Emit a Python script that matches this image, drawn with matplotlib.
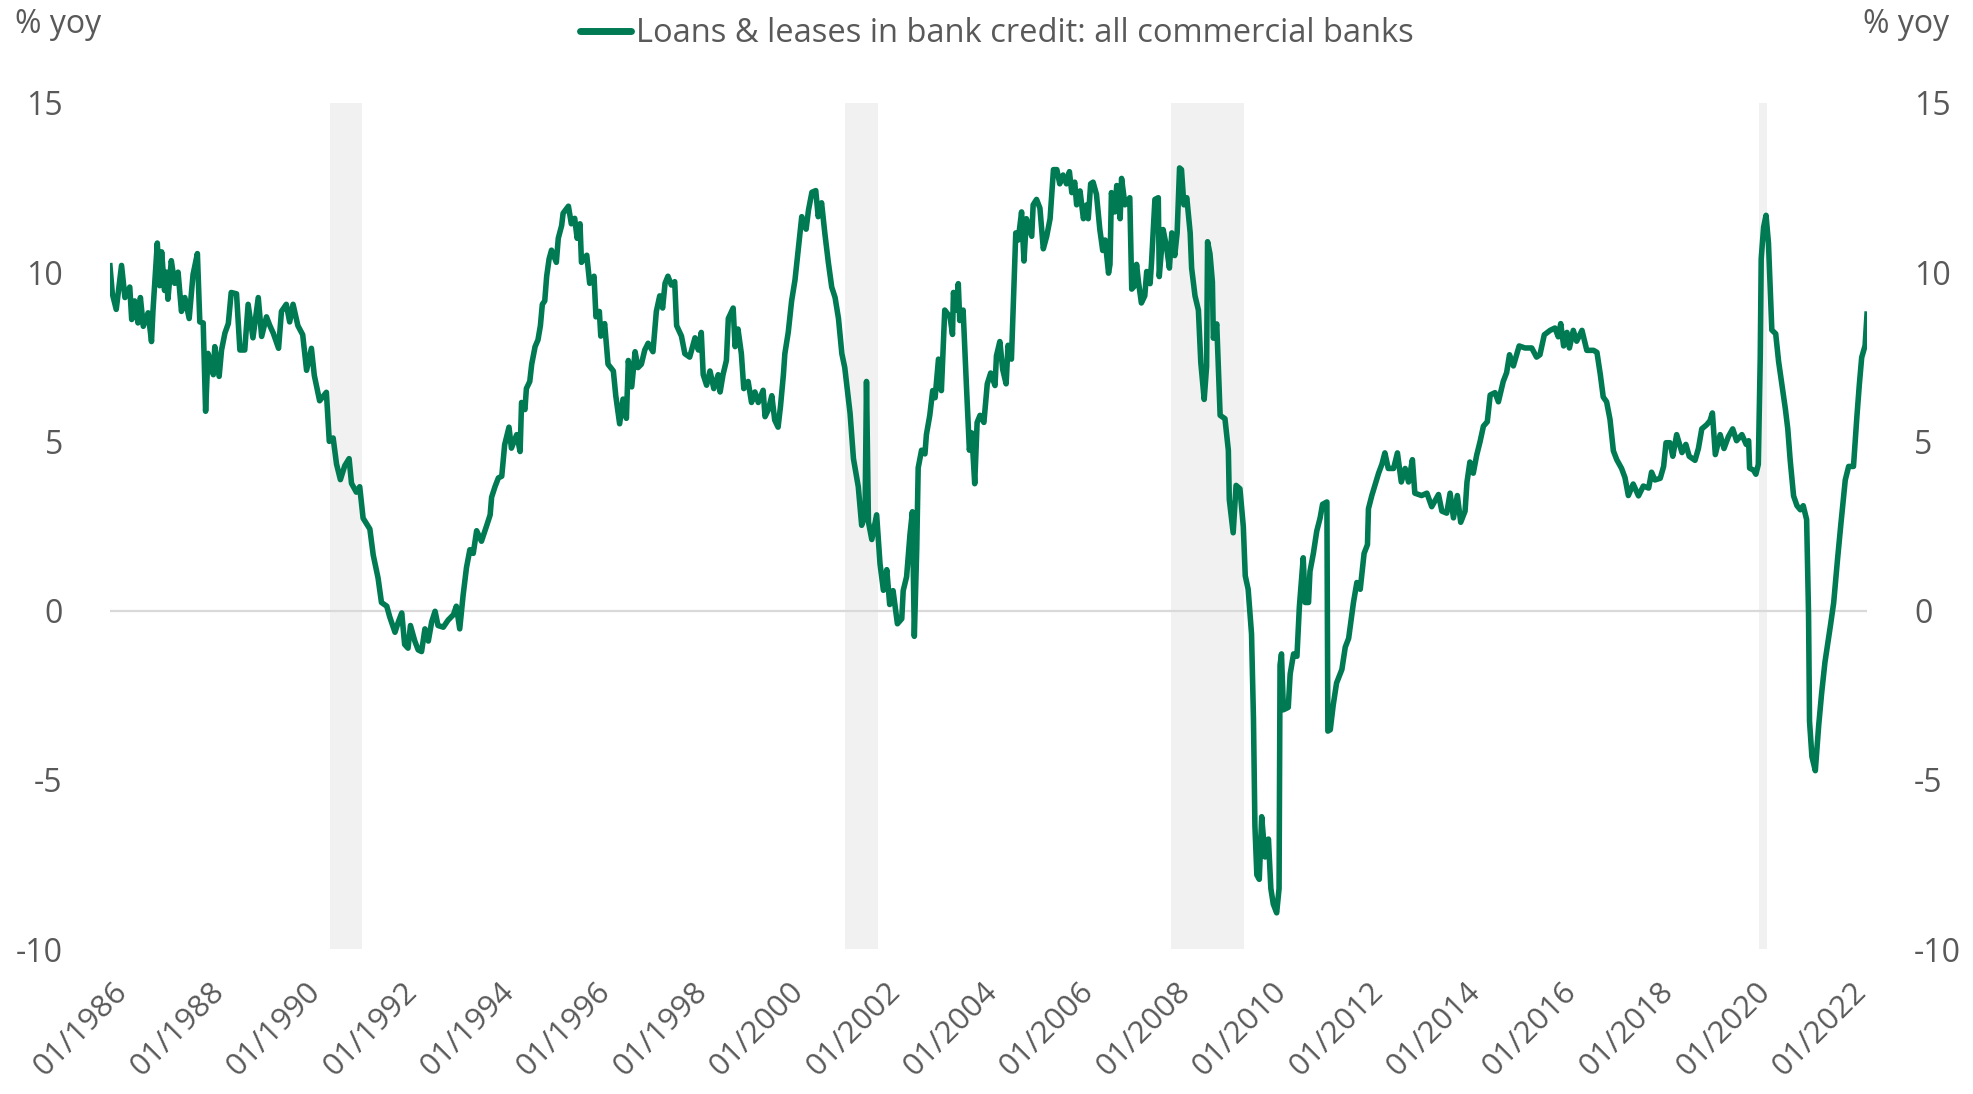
import matplotlib
matplotlib.use("Agg")
import matplotlib.pyplot as plt

# % yoy (decimal years)
years = [
    1985.95, 1986.0, 1986.08, 1986.19, 1986.26, 1986.36, 1986.4, 1986.46, 1986.53, 1986.58,
    1986.64, 1986.74, 1986.81, 1986.84, 1986.93, 1986.98, 1987.02, 1987.08, 1987.12, 1987.15,
    1987.22, 1987.29, 1987.36, 1987.43, 1987.5, 1987.59, 1987.67, 1987.76, 1987.81, 1987.88,
    1987.93, 1987.98, 1988.05, 1988.09, 1988.12, 1988.21, 1988.26, 1988.33, 1988.4, 1988.46,
    1988.57, 1988.64, 1988.74, 1988.81, 1988.91, 1989.02, 1989.09, 1989.19, 1989.26, 1989.33,
    1989.44, 1989.5, 1989.6, 1989.67, 1989.74, 1989.84, 1989.94, 1990.02, 1990.12, 1990.18,
    1990.29, 1990.43, 1990.49, 1990.57, 1990.64, 1990.72, 1990.81, 1990.9, 1990.95, 1991.05,
    1991.12, 1991.19, 1991.33, 1991.4, 1991.5, 1991.57, 1991.68, 1991.74, 1991.85, 1991.92,
    1991.99, 1992.05, 1992.12, 1992.17, 1992.26, 1992.33, 1992.4, 1992.47, 1992.54, 1992.61,
    1992.68, 1992.74, 1992.85, 1992.95, 1993.06, 1993.12, 1993.19, 1993.26, 1993.33, 1993.4,
    1993.47, 1993.54, 1993.64, 1993.75, 1993.82, 1993.85, 1993.92, 1993.99,
    1994.06, 1994.12, 1994.21, 1994.26, 1994.37, 1994.44, 1994.47, 1994.54, 1994.57, 1994.64,
    1994.68, 1994.75, 1994.81, 1994.86, 1994.9, 1994.95, 1994.99, 1995.04, 1995.09, 1995.19,
    1995.23, 1995.3, 1995.33, 1995.44, 1995.5, 1995.57, 1995.62, 1995.68, 1995.71, 1995.82,
    1995.88, 1995.97, 1996.01, 1996.08, 1996.11, 1996.19, 1996.26, 1996.37, 1996.42, 1996.5,
    1996.57, 1996.64, 1996.68, 1996.75, 1996.82, 1996.88, 1996.95, 1997.02, 1997.09, 1997.19,
    1997.26, 1997.33, 1997.39, 1997.44, 1997.5, 1997.57, 1997.64, 1997.68, 1997.78, 1997.85,
    1997.95, 1998.06, 1998.13, 1998.19, 1998.23, 1998.3, 1998.37, 1998.45, 1998.54, 1998.58,
    1998.64, 1998.71, 1998.75, 1998.85, 1998.89, 1998.95, 1999.02, 1999.07, 1999.16, 1999.23,
    1999.3, 1999.37, 1999.47, 1999.51, 1999.58, 1999.65, 1999.71, 1999.78, 1999.83, 1999.89,
    1999.92, 1999.99, 2000.06, 2000.13, 2000.2, 2000.27, 2000.36, 2000.41, 2000.48, 2000.56,
    2000.61, 2000.68, 2000.75, 2000.82, 2000.89, 2000.96, 2001.03, 2001.1, 2001.16, 2001.27,
    2001.34, 2001.44, 2001.51, 2001.58, 2001.61, 2001.65, 2001.72, 2001.82, 2001.89, 2001.96,
    2002.03, 2002.09, 2002.16, 2002.25, 2002.34, 2002.37, 2002.44, 2002.51, 2002.56, 2002.6,
    2002.65, 2002.68, 2002.75, 2002.82, 2002.85, 2002.92, 2002.98, 2003.03, 2003.1, 2003.16,
    2003.23, 2003.34, 2003.39, 2003.41, 2003.46, 2003.51, 2003.54, 2003.61, 2003.68, 2003.74,
    2003.79, 2003.85, 2003.9, 2003.96, 2004.04, 2004.11, 2004.18, 2004.27, 2004.3, 2004.37,
    2004.43, 2004.5, 2004.54, 2004.61, 2004.65, 2004.7, 2004.75, 2004.82, 2004.87, 2004.92,
    2005.03, 2005.06, 2005.13, 2005.2, 2005.27, 2005.34, 2005.41, 2005.48, 2005.55, 2005.61,
    2005.68, 2005.75, 2005.81, 2005.86, 2005.92, 2005.96, 2006.03, 2006.1, 2006.17, 2006.2,
    2006.25, 2006.3, 2006.37, 2006.44, 2006.5, 2006.55, 2006.62, 2006.65, 2006.68, 2006.75,
    2006.79, 2006.86, 2006.89, 2006.96, 2007.06, 2007.1, 2007.17, 2007.2, 2007.24, 2007.3,
    2007.37, 2007.41, 2007.48, 2007.51, 2007.58, 2007.65, 2007.67, 2007.75, 2007.82, 2007.88,
    2007.93, 2007.99, 2008.04, 2008.09, 2008.13, 2008.18, 2008.24, 2008.31, 2008.34, 2008.41,
    2008.48, 2008.53, 2008.6, 2008.65, 2008.67, 2008.72, 2008.77, 2008.79, 2008.86, 2008.93,
    2009.03, 2009.1, 2009.12, 2009.2, 2009.26, 2009.34, 2009.41, 2009.45, 2009.51, 2009.58,
    2009.62, 2009.65, 2009.69, 2009.74, 2009.79, 2009.86, 2009.93, 2009.98, 2010.03, 2010.1,
    2010.15, 2010.17, 2010.2, 2010.24, 2010.34, 2010.38, 2010.45, 2010.52, 2010.57, 2010.65,
    2010.69, 2010.76, 2010.79, 2010.86, 2010.93, 2011.0, 2011.05, 2011.14, 2011.16, 2011.21,
    2011.27, 2011.34, 2011.45, 2011.52, 2011.59, 2011.69, 2011.76, 2011.83, 2011.91, 2011.98,
    2012.0, 2012.07, 2012.14, 2012.21, 2012.28, 2012.34, 2012.41, 2012.52, 2012.6, 2012.68,
    2012.76, 2012.83, 2012.91, 2012.96, 2013.1, 2013.21, 2013.31, 2013.45, 2013.52, 2013.62,
    2013.69, 2013.76, 2013.84, 2013.91, 2014.0, 2014.04, 2014.1, 2014.17, 2014.24, 2014.31,
    2014.38, 2014.46, 2014.52, 2014.62, 2014.69, 2014.79, 2014.86, 2014.92, 2015.0, 2015.12,
    2015.24, 2015.38, 2015.48, 2015.55, 2015.64, 2015.76, 2015.86, 2015.93, 2015.98, 2016.04,
    2016.11, 2016.16, 2016.24, 2016.31, 2016.42, 2016.52, 2016.66, 2016.73, 2016.8, 2016.86,
    2016.93, 2017.0, 2017.07, 2017.14, 2017.24, 2017.31, 2017.38, 2017.48, 2017.59, 2017.69,
    2017.8, 2017.86, 2017.93, 2018.04, 2018.11, 2018.16, 2018.24, 2018.3, 2018.38, 2018.49,
    2018.57, 2018.64, 2018.76, 2018.83, 2018.9, 2019.0, 2019.07, 2019.12, 2019.18, 2019.28,
    2019.36, 2019.45, 2019.54, 2019.62, 2019.73, 2019.82, 2019.87, 2019.89, 2019.97, 2020.02,
    2020.07, 2020.11, 2020.13, 2020.18, 2020.23, 2020.28, 2020.35, 2020.43, 2020.49, 2020.56,
    2020.63, 2020.68, 2020.73, 2020.8, 2020.87, 2020.94, 2021.0, 2021.07, 2021.11, 2021.13,
    2021.18, 2021.25, 2021.32, 2021.38, 2021.45, 2021.56, 2021.63, 2021.71, 2021.78, 2021.87,
    2021.94, 2022.04, 2022.11, 2022.16, 2022.21, 2022.28, 2022.32,
]
loans_yoy = [
    10.19, 9.36, 8.9, 10.2, 9.25, 9.56, 8.6, 9.15, 8.5, 9.25,
    8.4, 8.8, 7.95, 8.85, 10.86, 9.6, 10.6, 9.46, 10.0, 9.2,
    10.34, 9.67, 10.0, 8.84, 9.25, 8.63, 9.93, 10.55, 8.53, 8.5,
    5.89, 7.6, 7.3, 6.97, 7.8, 6.92, 7.7, 8.2, 8.48, 9.4,
    9.36, 7.7, 7.7, 9.05, 8.06, 9.25, 8.1, 8.68, 8.42, 8.2,
    7.75, 8.84, 9.05, 8.53, 9.05, 8.42, 8.15, 7.1, 7.75, 6.95,
    6.2, 6.45, 5.0, 5.1, 4.33, 3.87, 4.28, 4.49, 3.76, 3.5,
    3.66, 2.73, 2.41, 1.64, 0.96, 0.24, 0.13, -0.18, -0.64, -0.33,
    -0.07, -1.0, -1.11, -0.44, -0.9, -1.16, -1.21, -0.54, -0.9, -0.33,
    -0.02, -0.44, -0.49, -0.28, -0.12, 0.13, -0.54, 0.45, 1.27, 1.8,
    1.69, 2.36, 2.05, 2.52, 2.83, 3.35, 3.66, 3.92,
    3.97, 4.9, 5.42, 4.8, 5.2, 4.7, 6.15, 5.94, 6.56, 6.77,
    7.28, 7.8, 8.0, 8.42, 9.05, 9.15, 9.88, 10.39, 10.65, 10.29,
    11.0, 11.38, 11.74, 11.95, 11.43, 11.59, 11.0, 11.43, 10.29, 10.5,
    9.67, 9.88, 8.68, 8.84, 8.11, 8.48, 7.28, 7.08, 6.35, 5.52,
    6.25, 5.68, 7.39, 6.61, 7.65, 7.18, 7.28, 7.7, 7.9, 7.65,
    8.84, 9.3, 8.94, 9.67, 9.88, 9.62, 9.72, 8.42, 8.11, 7.59,
    7.49, 8.06, 7.7, 8.22, 6.97, 6.66, 7.08, 6.56, 6.97, 6.46,
    6.97, 7.39, 8.63, 8.94, 7.8, 8.32, 7.59, 6.56, 6.77, 6.15,
    6.46, 6.15, 6.51, 5.73, 5.94, 6.35, 5.63, 5.42, 6.04, 6.97,
    7.59, 8.22, 9.15, 9.77, 10.7, 11.64, 11.27, 11.84, 12.36, 12.41,
    11.64, 12.05, 11.12, 10.29, 9.56, 9.25, 8.63, 7.59, 7.18, 5.83,
    4.49, 3.66, 2.52, 2.83, 6.77, 2.62, 2.1, 2.83, 1.38, 0.6,
    1.21, 0.18, 0.59, -0.39, -0.24, 0.59, 1.0, 2.25, 2.92, -0.76,
    1.83, 4.22, 4.74, 4.63, 5.2, 5.77, 6.5, 6.29, 7.43, 6.5,
    8.88, 8.67, 8.16, 9.4, 8.88, 9.66, 8.57, 8.88, 6.6, 4.74,
    5.25, 3.75, 5.56, 5.77, 5.56, 6.7, 7.02, 6.65, 7.53, 7.95,
    7.12, 6.7, 7.84, 7.43, 9.09, 11.16, 10.95, 11.78, 10.33, 11.58,
    11.06, 11.99, 12.15, 11.89, 10.69, 11.06, 11.58, 13.03, 13.03, 12.61,
    12.87, 12.61, 12.97, 12.35, 12.66, 11.99, 12.4, 11.58, 11.99, 11.58,
    12.61, 12.66, 12.3, 11.26, 10.64, 10.95, 9.97, 10.23, 12.35, 11.78,
    12.56, 11.58, 12.77, 11.99, 12.2, 9.5, 9.61, 10.23, 9.71, 9.09,
    9.3, 10.02, 9.66, 10.28, 12.15, 12.2, 9.87, 11.26, 10.75, 10.12,
    11.16, 10.49, 11.16, 13.08, 13.03, 11.99, 12.2, 11.16, 10.12, 9.3,
    8.88, 7.33, 6.24, 7.22, 10.9, 10.54, 9.71, 8.05, 8.47, 5.77,
    5.67, 4.74, 3.28, 2.3, 3.7, 3.6, 2.48, 1.03, 0.63, -0.69,
    -3.19, -6.36, -7.81, -7.94, -6.09, -7.28, -6.75, -8.21, -8.67, -8.93,
    -8.21, -1.61, -1.28, -2.93, -2.86, -1.87, -1.28, -1.35, 0.11, 1.56,
    0.24, 0.24, 1.16, 1.69, 2.35, 2.74, 3.14, 3.21, -3.56, -3.52,
    -2.8, -2.14, -1.74, -1.08, -0.82, 0.24, 0.83, 0.63, 1.69, 1.95,
    3.01, 3.4, 3.73, 4.06, 4.33, 4.66, 4.2, 4.2, 4.66, 3.8,
    4.2, 3.8, 4.46, 3.47, 3.4, 3.47, 3.07, 3.43, 2.94, 2.88,
    3.47, 2.74, 3.4, 2.61, 2.94, 3.8, 4.39, 4.06, 4.59, 4.99,
    5.45, 5.58, 6.37, 6.44, 6.17, 6.77, 7.03, 7.56, 7.23, 7.82,
    7.76, 7.76, 7.49, 7.56, 8.15, 8.28, 8.35, 8.09, 8.48, 7.82,
    8.22, 7.76, 8.28, 7.96, 8.28, 7.69, 7.69, 7.63, 6.97, 6.31,
    6.17, 5.65, 4.72, 4.46, 4.2, 3.93, 3.4, 3.74, 3.39, 3.68,
    3.62, 4.09, 3.86, 3.91, 4.26, 4.96, 4.96, 4.56, 5.2, 4.67,
    4.91, 4.56, 4.44, 4.79, 5.37, 5.49, 5.61, 5.84, 4.61, 5.2,
    4.79, 5.14, 5.37, 5.02, 5.2, 4.91, 5.02, 4.21, 4.15, 4.03,
    4.32, 7.48, 10.4, 11.33, 11.68, 10.86, 8.29, 8.18, 7.36, 6.66,
    5.96, 5.37, 4.44, 3.39, 3.1, 2.98, 3.1, 2.69, -0.12, -3.27,
    -4.32, -4.73, -3.39, -2.45, -1.52, -0.47, 0.23, 1.52, 2.57, 3.86,
    4.26, 4.26, 5.72, 6.66, 7.48, 7.83, 8.76,
]

# NBER recessions (start, end) in decimal years
recessions = [(1990.5, 1991.17), (2001.16, 2001.84), (2007.92, 2009.42), (2020.08, 2020.25)]

tick_years = list(range(1986, 2023, 2))
tick_labels = ["01/{}".format(y) for y in tick_years]

green = "#007a52"
grey_text = "#595959"

plt.rcParams["font.family"] = ["Open Sans", "DejaVu Sans"]
plt.rcParams["axes.unicode_minus"] = False

fig = plt.figure(figsize=(19.74, 10.94), dpi=100)
ax = fig.add_axes([0.0557, 0.1325, 0.8901, 0.7734])

for start, end in recessions:
    ax.axvspan(start, end, color="#f1f1f1", lw=0, zorder=0)

ax.axhline(0, color="#d9d9d9", lw=1.6, zorder=1)
ax.plot(years, loans_yoy, color=green, lw=4.0, zorder=3, solid_joinstyle="round",
        label="Loans & leases in bank credit: all commercial banks")

ax.set_ylim(-10, 15)
ax.set_xlim(years[0], years[-1])
ax.set_yticks([-10, -5, 0, 5, 10, 15])
ax.set_xticks(tick_years)
ax.set_xticklabels(tick_labels, rotation=45, ha="right", va="top", rotation_mode="anchor")

for side in ["top", "bottom", "left", "right"]:
    ax.spines[side].set_visible(False)

ax.tick_params(axis="both", length=0, colors=grey_text, labelsize=23)
ax.tick_params(axis="y", pad=34, labelright=True)
ax.tick_params(axis="x", pad=20, labelsize=22.5)

fig.text(0.0075, 0.978, "% yoy", fontsize=23, color=grey_text, va="center", ha="left")
fig.text(0.9875, 0.978, "% yoy", fontsize=23, color=grey_text, va="center", ha="right")

leg = ax.legend(loc="center", bbox_to_anchor=(0.505, 0.969), bbox_transform=fig.transFigure,
                frameon=False, fontsize=23.5, handlelength=1.55, handletextpad=0.15)
for t in leg.get_texts():
    t.set_color(grey_text)
for h in leg.get_lines():
    h.set_linewidth(5)
    h.set_solid_capstyle("round")

fig.savefig("out.png", dpi=100, facecolor="white")
